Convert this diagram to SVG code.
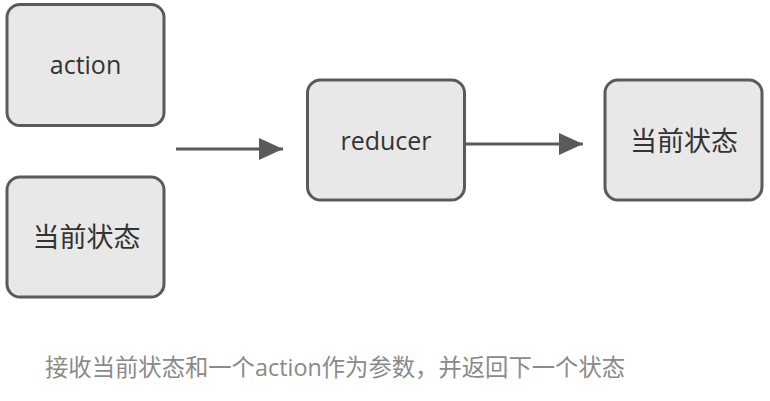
<svg xmlns="http://www.w3.org/2000/svg" width="770" height="401" viewBox="0 0 770 401">
<defs>
<style>
.box{fill:#e8e8e8;stroke:#5a5a5a;stroke-width:3}
.lbl{font-family:"Open Sans","Noto Sans CJK SC",sans-serif;font-size:25px;fill:#333;text-anchor:middle}
.cjk{font-family:"Noto Sans CJK SC",sans-serif;font-size:27px;fill:#333;text-anchor:middle}
.edge{stroke:#5a5a5a;stroke-width:3;fill:none}
.cap{font-family:"Open Sans","Noto Sans CJK SC",sans-serif;font-size:23.3px;fill:#8a8a8a}
</style>
<marker id="ah" viewBox="0 0 24 22" refX="24" refY="11" markerWidth="24" markerHeight="22" markerUnits="userSpaceOnUse" orient="auto">
<path d="M0,0 L24,11 L0,22 Z" fill="#5a5a5a"/>
</marker>
</defs>
<rect width="770" height="401" fill="#fff"/>
<g id="node-action">
<rect class="box" x="7" y="4.5" width="157" height="121" rx="13"/>
<text class="lbl" x="85.5" y="74">action</text>
</g>
<g id="node-state-in">
<rect class="box" x="7" y="177" width="157" height="120" rx="13"/>
<text class="cjk" x="86.5" y="247">当前状态</text>
</g>
<g id="node-reducer">
<rect class="box" x="307.5" y="80" width="157" height="120" rx="13"/>
<text class="lbl" x="386" y="150">reducer</text>
</g>
<g id="node-state-out">
<rect class="box" x="605" y="80" width="157" height="120" rx="13"/>
<text class="cjk" x="684" y="151">当前状态</text>
</g>
<g id="connectors">
<line class="edge" x1="176" y1="149" x2="283" y2="149" marker-end="url(#ah)"/>
<line class="edge" x1="466" y1="144" x2="583" y2="144" marker-end="url(#ah)"/>
</g>
<text class="cap" x="45" y="376" textLength="580" lengthAdjust="spacing">接收当前状态和一个action作为参数，并返回下一个状态</text>
</svg>
